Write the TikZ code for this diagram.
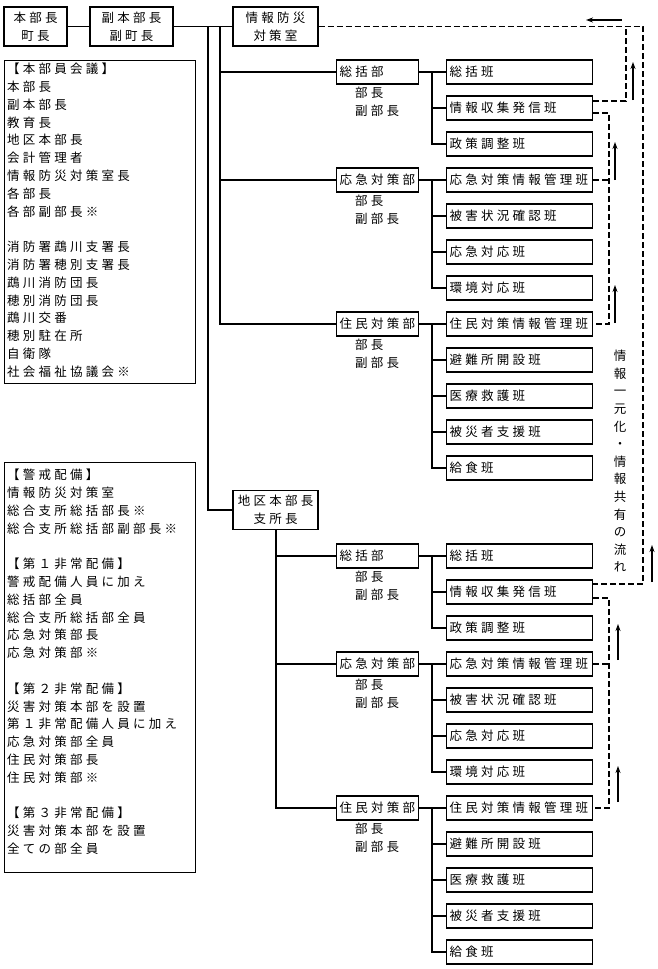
\documentclass[tikz,border=0pt]{standalone}
\usepackage{fontspec}
\setmainfont{Noto Sans CJK JP}[LetterSpace=26]
\usetikzlibrary{arrows.meta}
\begin{document}
\begin{tikzpicture}[x=1pt,y=-1pt,
  every node/.style={font=\fontsize{12.5}{17.8}\selectfont},
  ln/.style={line width=1.3pt},
  box/.style={draw,line width=1.3pt,inner sep=1pt,align=center},
  dep/.style={draw,line width=1.3pt,anchor=west,minimum height=24pt,text width=76pt,inner xsep=3pt,align=left},
  grp/.style={draw,line width=1.3pt,anchor=west,minimum height=24pt,text width=140pt,inner xsep=3pt,align=left},
  dsh/.style={line width=1.3pt,dash pattern=on 6pt off 3pt},
  arr/.style={line width=1.3pt,-{Stealth[length=7pt,width=5pt]}},
  sub/.style={align=left,anchor=north west,inner sep=0pt}]
\useasboundingbox (0,0) rectangle (658,969);
\fill[white] (0,0) rectangle (658,969);
% top row
\node[box,minimum width=63pt,minimum height=39pt] (hon) at (35.5,26.5) {本部長\\町長};
\node[box,minimum width=83pt,minimum height=39pt] (fuku) at (131.5,26.5) {副本部長\\副町長};
\node[box,minimum width=85pt,minimum height=39pt] (joho) at (275.5,26.5) {情報防災\\対策室};
\draw[ln] (hon.east) -- (fuku.east -| fuku.west);
\draw[ln] (fuku.east) -- (joho.west);
% left boxes
\node[draw,line width=1.3pt,anchor=north west,minimum width=191pt,minimum height=323pt] (kaigi) at (4,60) {};
\node[sub] (kaigit) at (7,63) {【本部員会議】\\本部長\\副本部長\\教育長\\地区本部長\\会計管理者\\情報防災対策室長\\各部長\\各部副部長※\\~\\消防署鵡川支署長\\消防署穂別支署長\\鵡川消防団長\\穂別消防団長\\鵡川交番\\穂別駐在所\\自衛隊\\社会福祉協議会※};
\node[draw,line width=1.3pt,anchor=north west,minimum width=191pt,minimum height=410pt] (haibi) at (4,462) {};
\node[sub] (haibit) at (7,469) {【警戒配備】\\情報防災対策室\\総合支所総括部長※\\総合支所総括部副部長※\\~\\【第１非常配備】\\警戒配備人員に加え\\総括部全員\\総合支所総括部全員\\応急対策部長\\応急対策部※\\~\\【第２非常配備】\\災害対策本部を設置\\第１非常配備人員に加え\\応急対策部全員\\住民対策部長\\住民対策部※\\~\\【第３非常配備】\\災害対策本部を設置\\全ての部全員};
% district HQ
\node[box,minimum width=85pt,minimum height=39pt] (chiku) at (275.5,510) {地区本部長\\支所長};
\coordinate (v1t) at (208,26.5);
\coordinate (v2t) at (220,26.5);
\draw[ln] (v1t) |- (chiku.west);
\foreach \p/\oy in {a/0,b/484}{
  \node[dep] (\p s) at (336,72+\oy) {総括部};
  \node[dep] (\p o) at (336,180+\oy) {応急対策部};
  \node[dep] (\p j) at (336,324+\oy) {住民対策部};
  \foreach \d/\dy in {s/72,o/180,j/324}{
    \node[sub] at (355,\dy+\oy+15) {部長\\副部長};
  }
  \node[grp] (\p g1) at (446,72+\oy) {総括班};
  \node[grp] (\p g2) at (446,108+\oy) {情報収集発信班};
  \node[grp] (\p g3) at (446,144+\oy) {政策調整班};
  \node[grp] (\p g4) at (446,180+\oy) {応急対策情報管理班};
  \node[grp] (\p g5) at (446,216+\oy) {被害状況確認班};
  \node[grp] (\p g6) at (446,252+\oy) {応急対応班};
  \node[grp] (\p g7) at (446,288+\oy) {環境対応班};
  \node[grp] (\p g8) at (446,324+\oy) {住民対策情報管理班};
  \node[grp] (\p g9) at (446,360+\oy) {避難所開設班};
  \node[grp] (\p g10) at (446,396+\oy) {医療救護班};
  \node[grp] (\p g11) at (446,432+\oy) {被災者支援班};
  \node[grp] (\p g12) at (446,468+\oy) {給食班};
  \coordinate (\p js) at (432,72+\oy);
  \coordinate (\p jo) at (432,180+\oy);
  \coordinate (\p jj) at (432,324+\oy);
  \draw[ln] (\p s.east) -- (\p g1.west);
  \draw[ln] (\p js) |- (\p g3.west);
  \draw[ln] (\p g2.west) -- ++(-14,0);
  \draw[ln] (\p o.east) -- (\p g4.west);
  \draw[ln] (\p jo) |- (\p g7.west);
  \draw[ln] (\p g5.west) -- ++(-14,0);
  \draw[ln] (\p g6.west) -- ++(-14,0);
  \draw[ln] (\p j.east) -- (\p g8.west);
  \draw[ln] (\p jj) |- (\p g12.west);
  \foreach \k in {9,10,11}{\draw[ln] (\p g\k.west) -- ++(-14,0);}
}
% trunks
\draw[ln] (v2t) |- (aj.west);
\draw[ln] (as.west) -- (as.west -| v2t);
\draw[ln] (ao.west) -- (ao.west -| v2t);
\coordinate (v3t) at (276,529.5);
\draw[ln] (v3t) |- (bj.west);
\draw[ln] (bs.west) -- (bs.west -| v3t);
\draw[ln] (bo.west) -- (bo.west -| v3t);
% dashed information flow
\coordinate (c1) at (643,26.5);
\coordinate (c2) at (626,26.5);
\draw[dsh] (joho.east) -- (c1) |- ([yshift=8pt]bg2.east);
\draw[dsh] ([yshift=7pt]ag2.east) -| (c2);
\draw[dsh] ([yshift=-5pt]ag2.east) -| (609,324) -- (ag8.east);
\draw[dsh] (ag4.east) -- (609,180);
\draw[dsh] ([yshift=-6pt]bg2.east) -| (609,808) -- (bg8.east);
\draw[dsh] (bg4.east) -- (609,664);
% solid arrows
\draw[arr] (622,20) -- (586,20);
\draw[arr] (633,100) -- (633,62);
\draw[arr] (615,180) -- (615,142);
\draw[arr] (615,323) -- (615,285);
\draw[arr] (652,582) -- (652,545);
\draw[arr] (618,660) -- (618,624);
\draw[arr] (618,802) -- (618,766);
% vertical label
\node[align=center,inner sep=0pt,anchor=north,font=\fontsize{12.5}{17.6}\selectfont] (lbl) at (620,350) {情\\報\\一\\元\\化\\・\\情\\報\\共\\有\\の\\流\\れ};
\end{tikzpicture}
\end{document}
